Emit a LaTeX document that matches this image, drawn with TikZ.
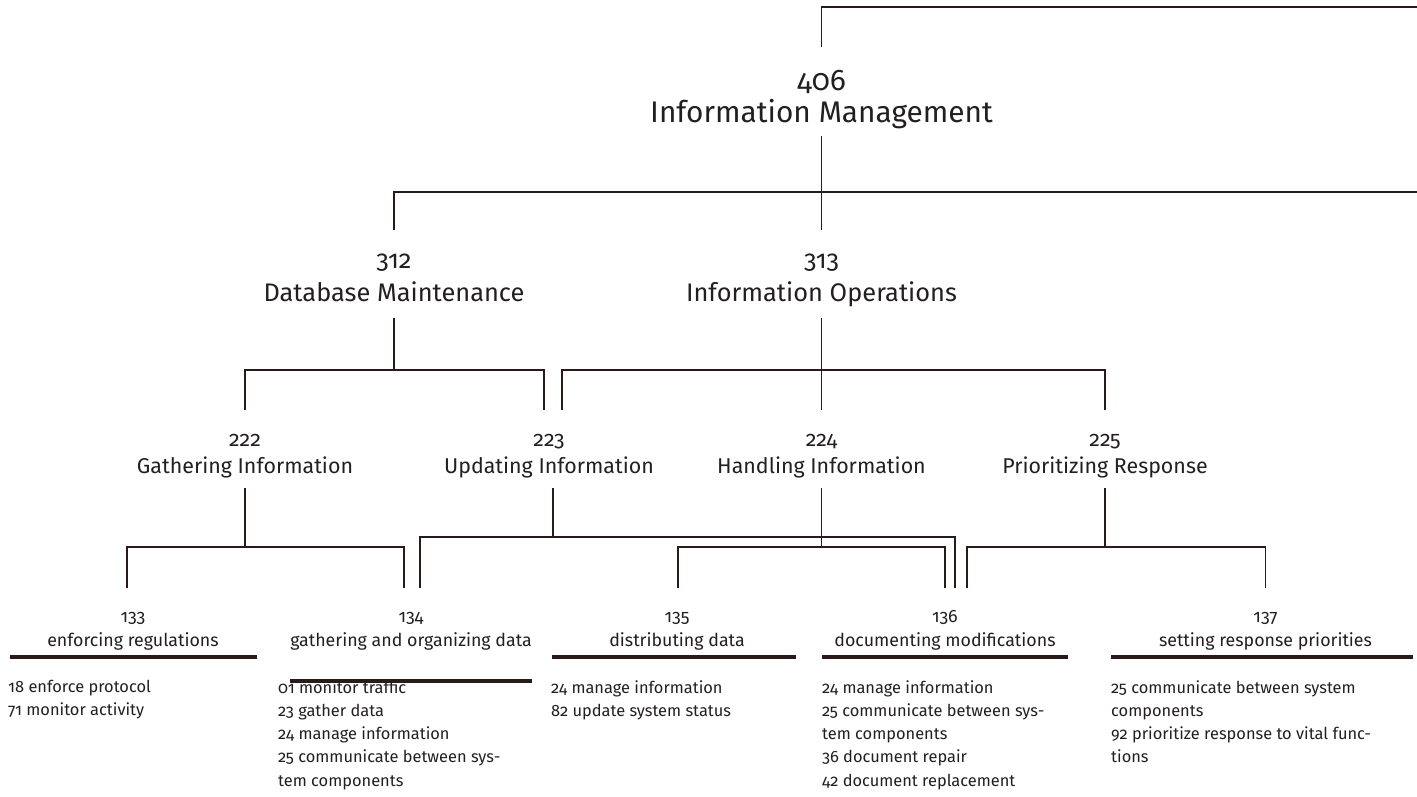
\documentclass[tikz,border=0pt]{standalone}
\usepackage{fontspec}
\setmainfont{Fira Sans}[Numbers=OldStyle]
\definecolor{linec}{HTML}{2B1A1A}
\definecolor{ink}{HTML}{231F20}
% two-line heading: space above first baseline, space below last baseline, number, title
\newcommand\hdtext[4]{\rule{0pt}{#1pt}#3\\#4\rule[-#2pt]{0pt}{0pt}}
\begin{document}
\begin{tikzpicture}[x=1pt,y=-1pt,
  wire/.style={draw=linec, line width=1.6pt},
  rule/.style={draw=linec, line width=4pt},
  heading/.style={align=center, inner sep=0pt, anchor=north, text=ink},
  lvA/.style={heading, font=\fontsize{29.8}{32}\selectfont},
  lvB/.style={heading, font=\fontsize{25.4}{33}\selectfont},
  lvC/.style={heading, font=\fontsize{21.4}{27}\selectfont},
  lvD/.style={heading, font=\fontsize{17.8}{24}\selectfont},
  items/.style={align=left, inner sep=0pt, anchor=north west, text=ink,
              font=\fontsize{16.4}{23.3}\selectfont}]
\path[use as bounding box] (0,0) rectangle (1417,796);

% hierarchy labels
\node[lvA] (n406) at (821.5,47) {\hdtext{43}{14}{406}{Information Management}};
\node[lvB] (n312) at (394,230) {\hdtext{38.5}{16.5}{312}{Database Maintenance}};
\node[lvB] (n313) at (821.5,230) {\hdtext{38.5}{16.5}{313}{Information Operations}};
\node[lvC] (n222) at (245,410) {\hdtext{36.5}{14.5}{222}{Gathering Information}};
\node[lvC] (n223) at (549,410) {\hdtext{36.5}{14.5}{223}{Updating Information}};
\node[lvC] (n224) at (821.5,410) {\hdtext{36.5}{14.5}{224}{Handling Information}};
\node[lvC] (n225) at (1105,410) {\hdtext{36.5}{14.5}{225}{Prioritizing Response}};
\node[lvD] (n133) at (133,588) {\hdtext{34.5}{2}{133}{enforcing regulations}};
\node[lvD] (n134) at (411,588) {\hdtext{34.5}{2}{134}{gathering and organizing data}};
\node[lvD] (n135) at (677,588) {\hdtext{34.5}{2}{135}{distributing data}};
\node[lvD] (n136) at (945,588) {\hdtext{34.5}{2}{136}{documenting modifications}};
\node[lvD] (n137) at (1265.5,588) {\hdtext{34.5}{2}{137}{setting response priorities}};

% free ends and junctions
\coordinate (topR) at (1417,7);
\coordinate (midR) at (1417,192);
\coordinate (j312) at (394,370);
\coordinate (j313) at (821.5,370);
\coordinate (j222) at (245,547);
\coordinate (j223) at (553,537);
\coordinate (j224) at (821.5,547);
\coordinate (j225) at (1105,547);

% connectors
\draw[wire] (n406.north) |- (topR);
\draw[wire] (n312.north) |- (midR);
\draw[wire] (n406.south) -- (n313.north);

\draw[wire] (n312.south) -- (j312);
\draw[wire] (n222.north) |- (j312) -| ([xshift=-5pt]n223.north);
\draw[wire] (n313.south) -- (n224.north);
\draw[wire] ([xshift=13pt]n223.north) |- (j313) -| (n225.north);

\draw[wire] (n222.south) -- (j222);
\draw[wire] ([xshift=-6pt]n133.north) |- (j222) -| ([xshift=-7pt]n134.north);
\draw[wire] ([xshift=4pt]n223.south) -- (j223);
\draw[wire] ([xshift=9pt]n134.north) |- (j223) -| ([xshift=10pt]n136.north);
\draw[wire] (n224.south) -- (j224);
\draw[wire] ([xshift=1pt]n135.north) |- (j224) -| (n136.north);
\draw[wire] (n225.south) -- (j225);
\draw[wire] ([xshift=22pt]n136.north) |- (j225) -| (n137.north);

% activity lists
\node[items] (i133) at (8,680) {18 enforce protocol\\71 monitor activity};
\node[items] (i134) at (278,680) {01 monitor traffic\\23 gather data\\24 manage information\\25 communicate between sys-\\tem components};
\node[items] (i135) at (551,680) {24 manage information\\82 update system status};
\node[items] (i136) at (822,680) {24 manage information\\25 communicate between sys-\\tem components\\36 document repair\\42 document replacement};
\node[items] (i137) at (1111,680) {25 communicate between system\\components\\92 prioritize response to vital func-\\tions};

% heavy rules under the leaf headings
\draw[rule] (10,657) -- (257,657);
\draw[rule] (290,681) -- (532,681);
\draw[rule] (552,657) -- (796,657);
\draw[rule] (822,657) -- (1068,657);
\draw[rule] (1111,657) -- (1413,657);
\end{tikzpicture}
\end{document}
